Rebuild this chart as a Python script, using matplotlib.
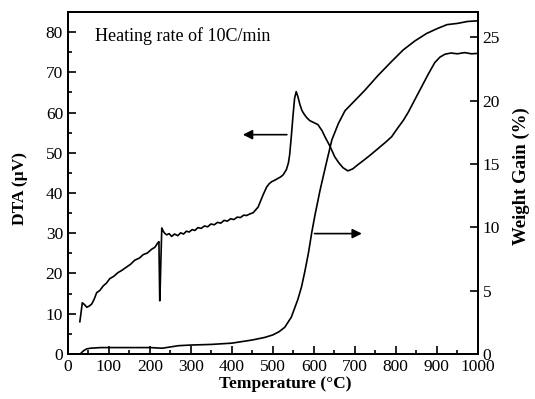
import matplotlib
matplotlib.use("Agg")
import matplotlib.pyplot as plt
from matplotlib.ticker import MultipleLocator

# DTA curve (left axis)
dta_temp = [29, 31, 35, 40, 46, 52, 58, 64, 70, 78, 86, 94, 102, 112, 122, 132, 143, 153,
            163, 174, 184, 194, 204, 212, 220, 222, 224, 225, 227, 229, 232, 236, 241, 247,
            253, 260, 268, 275, 282, 289, 296, 303, 310, 317, 325, 333, 341, 349, 357, 365,
            373, 381, 389, 397, 405, 413, 421, 429, 436, 444, 452, 458, 464, 470, 476, 485,
            491, 497, 505, 512, 519, 525, 533, 538, 541, 545, 549, 553, 557, 561, 566, 571,
            577, 583, 590, 600, 610, 620, 627, 640, 651, 661, 671, 683, 695, 707, 720, 735,
            748, 762, 776, 790, 805, 818, 830, 847, 863, 879, 895, 908, 920, 935, 950, 968,
            985, 1000]
dta_uv = [8.0, 9.5, 12.7, 12.3, 11.6, 11.9, 12.4, 13.6, 15.2, 15.8, 16.9, 17.6, 18.7, 19.3,
          20.2, 20.8, 21.6, 22.3, 23.3, 23.8, 24.7, 25.1, 26.0, 26.5, 27.7, 27.9, 13.2, 16.0,
          24.0, 31.3, 30.6, 30.0, 29.6, 29.9, 29.2, 29.8, 29.4, 30.1, 29.8, 30.5, 30.3, 30.9,
          30.7, 31.4, 31.2, 31.8, 31.6, 32.3, 32.1, 32.7, 32.5, 33.2, 33.0, 33.6, 33.4, 34.0,
          33.9, 34.5, 34.4, 34.8, 35.1, 35.8, 36.5, 38.0, 39.5, 41.5, 42.3, 42.8, 43.2, 43.6,
          44.0, 44.5, 45.8, 47.5, 49.5, 54.0, 59.0, 63.5, 65.2, 64.0, 62.0, 60.5, 59.5, 58.7,
          58.0, 57.5, 57.0, 55.5, 54.0, 51.5, 49.0, 47.5, 46.3, 45.5, 46.0, 47.0, 48.0, 49.2,
          50.3, 51.5, 52.7, 54.0, 56.2, 58.0, 60.0, 63.3, 66.4, 69.5, 72.4, 73.8, 74.5, 74.8,
          74.6, 74.9, 74.6, 74.7]

# weight gain curve (right axis)
wg_temp = [30, 38, 46, 55, 80, 120, 160, 200, 230, 250, 270, 300, 350, 400, 450, 480, 500,
           515, 529, 545, 561, 570, 578, 587, 595, 603, 610, 615, 630, 644, 660, 676, 700,
           724, 757, 790, 818, 846, 875, 902, 925, 951, 975, 1000]
wg_pct = [0, 0.25, 0.4, 0.45, 0.5, 0.5, 0.5, 0.5, 0.45, 0.55, 0.65, 0.7, 0.75, 0.85, 1.1,
          1.3, 1.5, 1.75, 2.1, 2.9, 4.3, 5.3, 6.5, 8.0, 9.6, 11.0, 12.1, 12.9, 15.0, 16.9,
          18.2, 19.2, 20.0, 20.8, 22.0, 23.1, 24.0, 24.7, 25.3, 25.7, 26.0, 26.1, 26.25, 26.3]

plt.rcParams['font.family'] = ['Liberation Serif', 'DejaVu Serif']

fig = plt.figure(figsize=(5.35, 3.99), dpi=100)
ax = fig.add_axes([0.127, 0.113, 0.766, 0.857])
ax2 = ax.twinx()

ax.plot(dta_temp, dta_uv, color='black', linewidth=1.2)
ax2.plot(wg_temp, wg_pct, color='black', linewidth=1.2)

ax.set_xlim(0, 1000)
ax.set_ylim(0, 85)
ax2.set_ylim(0, 27)

ax.xaxis.set_major_locator(MultipleLocator(100))
ax.xaxis.set_minor_locator(MultipleLocator(50))
ax.yaxis.set_major_locator(MultipleLocator(10))
ax.yaxis.set_minor_locator(MultipleLocator(5))
ax2.yaxis.set_major_locator(MultipleLocator(5))

ax.tick_params(which='both', direction='in', top=False, labelsize=12.5, width=1.2)
ax.tick_params(which='major', length=6)
ax.tick_params(which='minor', length=3)
ax2.tick_params(direction='in', labelsize=12.5, length=6, width=1.2)
for a in (ax, ax2):
    for s in a.spines.values():
        s.set_linewidth(1.4)

ax.set_xlabel("Temperature (°C)", fontsize=12.5, fontweight='bold')
ax.xaxis.set_label_coords(0.53, -0.064)
ax.set_ylabel("DTA (µV)", fontsize=12.5, fontweight='bold')
ax.yaxis.set_label_coords(-0.098, 0.485)
ax2.set_ylabel("Weight Gain (%)", fontsize=13.5, fontweight='bold')
ax2.yaxis.set_label_coords(1.085, 0.52)

ax.text(0.065, 0.93, "Heating rate of 10C/min", transform=ax.transAxes,
        fontsize=13, va='center', ha='left')

arrow = dict(arrowstyle='-|>', color='black', linewidth=1.2, mutation_scale=14)
ax.annotate("", xy=(420, 54.5), xytext=(541, 54.5), arrowprops=arrow)
ax2.annotate("", xy=(724, 9.5), xytext=(595, 9.5), arrowprops=arrow)

fig.savefig("out.png", dpi=100)
